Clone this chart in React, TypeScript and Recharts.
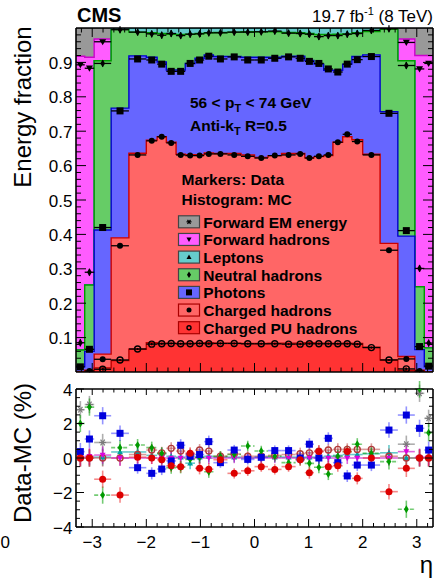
import React from 'react';
import { ComposedChart, Area, Scatter, XAxis, YAxis, ErrorBar } from 'recharts';

const FONT = '"Liberation Sans", Arial, Helvetica, sans-serif';

// ---------- data ----------
const binEdges = [-3.3, -3.139, -2.964, -2.65, -2.322, -2.0, -1.8, -1.63, -1.45, -1.28, -1.1, -0.93, -0.76, -0.5, -0.25, 0,
  0.25, 0.5, 0.76, 0.93, 1.1, 1.28, 1.45, 1.63, 1.8, 2.0, 2.322, 2.65, 2.964, 3.139, 3.3];

// MC histograms: cumulative (stacked) top of each component per eta bin
const mcTopForwardEM = [1, 1, 1, 1, 1, 1, 1, 1, 1, 1, 1, 1, 1, 1, 1, 1, 1, 1, 1, 1, 1, 1, 1, 1, 1, 1, 1, 1, 1, 1];
const mcTopForwardHad = [0.918, 0.915, 0.968, 1, 1, 1, 1, 1, 1, 1, 1, 1, 1, 1, 1, 1, 1, 1, 1, 1, 1, 1, 1, 1, 1, 1, 1, 0.968, 0.92, 0.92];
const mcTopLeptons = [0.064, 0.253, 0.905, 0.997, 1, 1, 1, 1, 1, 1, 1, 1, 1, 1, 1, 1, 1, 1, 1, 1, 1, 1, 1, 1, 1, 1, 0.997, 0.905, 0.248, 0.07];
const mcTopNeutral = [0.064, 0.253, 0.905, 0.996, 0.988, 0.986, 0.984, 0.982, 0.981, 0.982, 0.984, 0.986, 0.987, 0.988, 0.989,
  0.989, 0.989, 0.987, 0.986, 0.984, 0.981, 0.981, 0.982, 0.983, 0.986, 0.99, 0.996, 0.905, 0.248, 0.07];
const mcTopPhotons = [0.015, 0.06, 0.413, 0.767, 0.919, 0.915, 0.901, 0.878, 0.878, 0.897, 0.912, 0.922, 0.917, 0.917, 0.915,
  0.915, 0.915, 0.918, 0.918, 0.906, 0.895, 0.877, 0.877, 0.895, 0.917, 0.922, 0.757, 0.395, 0.065, 0.015];
const mcTopCharged = [0, 0.005, 0.052, 0.39, 0.636, 0.674, 0.684, 0.668, 0.633, 0.632, 0.632, 0.637, 0.635, 0.635, 0.631,
  0.624, 0.629, 0.635, 0.635, 0.623, 0.626, 0.629, 0.668, 0.684, 0.675, 0.633, 0.374, 0.045, 0.005, 0];
const mcTopChargedPU = [0, 0, 0.012, 0.033, 0.066, 0.085, 0.084, 0.084, 0.083, 0.084, 0.084, 0.085, 0.084, 0.084, 0.083,
  0.083, 0.084, 0.084, 0.084, 0.085, 0.084, 0.084, 0.083, 0.084, 0.083, 0.072, 0.035, 0.005, 0, 0];

// Data markers: cumulative fractions per eta bin (null = not shown)
const dataForwardHad = [0.893, 0.883, 0.96, null, null, null, null, null, null, null, null, null, null, null, null,
  null, null, null, null, null, null, null, null, null, null, null, null, 0.958, 0.881, 0.897];
const dataNeutral = [0.085, 0.29, 0.897, 0.995, 0.988, 0.983, 0.979, 0.984, 0.978, 0.982, 0.983, 0.986, 0.986, 0.988, 0.988,
  0.989, 0.991, 0.985, 0.984, 0.982, 0.975, 0.978, 0.978, 0.982, 0.984, 0.993, 0.998, 0.891, 0.301, 0.084];
const dataPhotons = [0.015, 0.066, 0.42, 0.759, 0.91, 0.907, 0.895, 0.874, 0.874, 0.897, 0.907, 0.918, 0.91, 0.916, 0.907,
  0.907, 0.912, 0.916, 0.912, 0.903, 0.897, 0.881, 0.872, 0.895, 0.908, 0.917, 0.752, 0.411, 0.074, 0.017];
const dataCharged = [null, 0.003, 0.037, 0.367, 0.631, 0.672, 0.684, 0.666, 0.631, 0.629, 0.629, 0.634, 0.634, 0.631, 0.627,
  0.622, 0.629, 0.631, 0.634, 0.622, 0.627, 0.631, 0.668, 0.691, 0.67, 0.631, 0.354, 0.038, 0.003, null];
const dataChargedPU = [null, null, 0.008, 0.035, 0.067, 0.081, 0.082, 0.083, 0.082, 0.082, 0.083, 0.082, 0.083, 0.083, 0.082,
  0.082, 0.082, 0.081, 0.081, 0.082, 0.082, 0.082, 0.082, 0.082, 0.081, 0.071, 0.035, 0.009, null, null];

// Data - MC (%) per eta bin
const diffForwardEM = [2.8, 3.1, 0.9, null, null, null, null, null, null, null, null, null, null, null, null,
  null, null, null, null, null, null, null, null, null, null, null, null, 0.8, 3.75, 2.3];
const diffForwardHad = [0.05, 0.1, 0.17, 0, 0, 0, 0, 0, 0, 0, 0, 0, 0, 0, 0, 0, 0, 0, 0, 0, 0, 0, 0, 0, 0, 0, 0, 0.37, 0.05, 0.05];
const diffLeptons = [0, 0, 0.05, 0.35, 0.35, 0.15, 0.25, 0.1, 0.05, -0.3, 0.05, 0.1, 0.05, 0.05, 0,
  0.05, 0.05, 0.05, 0.05, 0.05, 0.05, 0.1, 0.15, 0.2, 0.2, 0.25, 0.3, 0, 0, 0];
const diffNeutral = [2.0, 2.95, -2.15, 0.6, 0.75, 0.6, 0.27, -0.56, -0.54, -0.08, 0.04, -0.8, 0.1, 0.2, 0.7,
  0.41, 0.1, -0.27, -0.08, -0.31, -0.54, -0.93, 0.1, 0.37, 0.8, 0.27, -0.21, -2.97, 4.0, 1.47];
const diffPhotons = [0.37, 1.1, 2.45, 1.43, -0.56, -0.89, -0.64, -0.17, 0.74, 0.1, 0.2, 0.95, -0.27, 0.46, -0.08,
  0.04, 0.43, 0.43, 0, 0.8, 0, 1.14, -0.27, -1.04, -0.41, -0.41, 1.62, 2.49, 1.72, 0.46];
const diffCharged = [0, 0, -1.23, -2.15, 0.05, 0, -0.1, -0.45, -0.5, 0.27, -0.6, -0.65, -0.1, -0.89, -0.74,
  -0.5, -0.66, -0.5, -0.1, -0.85, 0.37, -0.5, -0.45, 0.37, -1.18, 0, -1.95, -0.6, 0, 0];
const diffChargedPU = [0, 0, 0, 0, 0.2, 0.46, 0.3, 0.56, 0.4, 0.2, 0.46, 0.4, 0.1, 0.23, 0.1,
  0.1, 0.15, 0.2, 0.25, 0.3, 0.4, 0.46, 0.5, 0.5, 0.5, 0.5, 0.1, 0, 0, 0];
const diffErr = [0.5, 0.5, 0.5, 0.45, 0.35, 0.35, 0.35, 0.35, 0.35, 0.35, 0.35, 0.35, 0.3, 0.3, 0.3,
  0.3, 0.3, 0.3, 0.35, 0.35, 0.35, 0.35, 0.35, 0.35, 0.35, 0.35, 0.45, 0.5, 0.5, 0.5];

// axis tick labels
const xMajorTicks = [-3, -2, -1, 0, 1, 2, 3];
const yTopMajorTicks = [0.1, 0.2, 0.3, 0.4, 0.5, 0.6, 0.7, 0.8, 0.9];
const yBotMajorTicks = [-4, -2, 0, 2, 4];

// ---------- derived ----------
const NB = binEdges.length - 1;
const binCenters = binEdges.slice(0, NB).map((e, i) => (e + binEdges[i + 1]) / 2);
const binHalf = binEdges.slice(0, NB).map((e, i) => (binEdges[i + 1] - e) / 2);

const histRows = binEdges.map((x, i) => {
  const j = Math.min(i, NB - 1);
  return {
    x,
    fem: mcTopForwardEM[j], fhad: mcTopForwardHad[j], lep: mcTopLeptons[j], neu: mcTopNeutral[j],
    pho: mcTopPhotons[j], ch: mcTopCharged[j], pu: mcTopChargedPU[j],
  };
});

type Pt = { x: number; y: number; xe: number; ye: number };
function toPoints(values: (number | null)[], yErr: number | number[]): Pt[] {
  const out: Pt[] = [];
  values.forEach((v, i) => {
    if (v === null || v === undefined) return;
    out.push({ x: binCenters[i], y: v, xe: binHalf[i], ye: Array.isArray(yErr) ? yErr[i] : yErr });
  });
  return out;
}

const range = (a: number, b: number, s: number) => {
  const r: number[] = [];
  for (let k = Math.round(a / s); k * s <= b + 1e-9; k++) r.push(Math.round(k * s * 1000) / 1000);
  return r;
};
const xTicksAll = range(-3.2, 3.2, 0.2);
const yTopTicksAll = range(0.02, 0.98, 0.02);
const yBotTicksAll = range(-3.5, 3.5, 0.5);

// ---------- markers ----------
type Kind = 'square' | 'circle' | 'open' | 'diamond' | 'tri' | 'itri' | 'star';
function drawMarker(kind: Kind, cx: number, cy: number, color: string, s: number) {
  const h = s / 2;
  switch (kind) {
    case 'square':
      return <rect x={cx - h} y={cy - h} width={s} height={s} fill={color} />;
    case 'circle':
      return <circle cx={cx} cy={cy} r={h} fill={color} />;
    case 'open':
      return <circle cx={cx} cy={cy} r={h - 0.5} fill="#fff" fillOpacity={0} stroke={color} strokeWidth={1.4} />;
    case 'diamond':
      return <polygon points={`${cx},${cy - h * 1.3} ${cx + h * 0.8},${cy} ${cx},${cy + h * 1.3} ${cx - h * 0.8},${cy}`} fill={color} />;
    case 'tri':
      return <polygon points={`${cx},${cy - h} ${cx + h},${cy + h * 0.75} ${cx - h},${cy + h * 0.75}`} fill={color} />;
    case 'itri':
      return <polygon points={`${cx},${cy + h} ${cx + h},${cy - h * 0.75} ${cx - h},${cy - h * 0.75}`} fill={color} />;
    case 'star':
      return (
        <g stroke={color} strokeWidth={1.2}>
          <line x1={cx - h} y1={cy} x2={cx + h} y2={cy} />
          <line x1={cx - h * 0.6} y1={cy - h * 0.8} x2={cx + h * 0.6} y2={cy + h * 0.8} />
          <line x1={cx - h * 0.6} y1={cy + h * 0.8} x2={cx + h * 0.6} y2={cy - h * 0.8} />
        </g>
      );
  }
  return null;
}

// ---------- ticks ----------
const TM = 4;
type Side = 'left' | 'right' | 'top' | 'bottom';
function mkTick(side: Side, majors: number[], majLen: number, minLen: number, labels: boolean, fmt: (v: number) => string) {
  return (props: any) => {
    const { x, y, payload } = props;
    const v = payload.value as number;
    const isMajor = majors.some((m) => Math.abs(m - v) < 1e-6);
    const len = isMajor ? majLen : minLen;
    let x1 = x, y1 = y, x2 = x, y2 = y;
    if (side === 'left') { x1 = x + TM; x2 = x1 + len; }
    else if (side === 'right') { x1 = x - TM; x2 = x1 - len; }
    else if (side === 'bottom') { y1 = y - TM; y2 = y1 - len; }
    else { y1 = y + TM; y2 = y1 + len; }
    return (
      <g>
        <line x1={x1} y1={y1} x2={x2} y2={y2} stroke="#000" strokeWidth={1} />
        {labels && isMajor && side === 'left' && (
          <text x={x1 - 3.5} y={y + 6.5} textAnchor="end" fontSize={17} fontFamily={FONT} fill="#000">{fmt(v)}</text>
        )}
        {labels && isMajor && side === 'bottom' && (
          <text x={x} y={y1 + 21} textAnchor="middle" fontSize={17} fontFamily={FONT} fill="#000">{fmt(v)}</text>
        )}
      </g>
    );
  };
}
const fmtNum = (v: number) => (v < 0 ? '\u2212' + String(Math.abs(v)) : String(v));
const AXLINE = { stroke: '#000', strokeWidth: 1.6 };

// ---------- series configs ----------
const histLayers = [
  { key: 'fem', fill: '#999999', stroke: '#555555' },
  { key: 'fhad', fill: '#ff5cff', stroke: '#cc00cc' },
  { key: 'lep', fill: '#66cccc', stroke: '#008888' },
  { key: 'neu', fill: '#66cc66', stroke: '#009900' },
  { key: 'pho', fill: '#6666ff', stroke: '#0000cc' },
  { key: 'ch', fill: '#ff6666', stroke: '#cc0000' },
  { key: 'pu', fill: '#ff3333', stroke: '#bb0000' },
];

const topMarkers: { name: string; pts: Pt[]; kind: Kind; size: number }[] = [
  { name: 'fhad', pts: toPoints(dataForwardHad, 0.004), kind: 'itri', size: 7 },
  { name: 'neu', pts: toPoints(dataNeutral, 0.01), kind: 'diamond', size: 6 },
  { name: 'pho', pts: toPoints(dataPhotons, 0.003), kind: 'square', size: 7 },
  { name: 'ch', pts: toPoints(dataCharged, 0.004), kind: 'circle', size: 6 },
  { name: 'pu', pts: toPoints(dataChargedPU, 0.003), kind: 'open', size: 7 },
];

const botSeries: { name: string; pts: Pt[]; kind: Kind; size: number; color: string; bar: string; dash?: string }[] = [
  { name: 'fem', pts: toPoints(diffForwardEM, diffErr), kind: 'star', size: 7, color: '#7a7a7a', bar: 'rgba(120,120,120,0.6)' },
  { name: 'lep', pts: toPoints(diffLeptons, diffErr), kind: 'tri', size: 6, color: '#00a0a0', bar: 'rgba(0,165,165,0.6)' },
  { name: 'pu', pts: toPoints(diffChargedPU, diffErr), kind: 'open', size: 7, color: '#b03a3a', bar: 'rgba(190,70,70,0.55)' },
  { name: 'fhad', pts: toPoints(diffForwardHad, diffErr), kind: 'itri', size: 6, color: '#dd00dd', bar: 'rgba(200,0,200,0.6)' },
  { name: 'neu', pts: toPoints(diffNeutral, diffErr), kind: 'diamond', size: 6, color: '#009a00', bar: 'rgba(0,160,0,0.55)', dash: '4 2' },
  { name: 'pho', pts: toPoints(diffPhotons, diffErr), kind: 'square', size: 7, color: '#0000dd', bar: 'rgba(60,60,255,0.55)' },
  { name: 'ch', pts: toPoints(diffCharged, diffErr), kind: 'circle', size: 7, color: '#dd0000', bar: 'rgba(235,40,40,0.55)' },
];

const legendItems: { label: string; fill: string; stroke: string; kind: Kind }[] = [
  { label: 'Forward EM energy', fill: '#999999', stroke: '#444444', kind: 'star' },
  { label: 'Forward hadrons', fill: '#ff5cff', stroke: '#444444', kind: 'itri' },
  { label: 'Leptons', fill: '#66cccc', stroke: '#444444', kind: 'tri' },
  { label: 'Neutral hadrons', fill: '#66cc66', stroke: '#444444', kind: 'diamond' },
  { label: 'Photons', fill: '#6666ff', stroke: '#444444', kind: 'square' },
  { label: 'Charged hadrons', fill: '#ff6666', stroke: '#aa0000', kind: 'circle' },
  { label: 'Charged PU hadrons', fill: '#ff3333', stroke: '#aa0000', kind: 'open' },
];

export default function App() {
  return (
    <div style={{ position: 'absolute', left: 0, top: 0, width: 440, height: 581, background: '#fff', fontFamily: FONT }}>
      {/* upper panel */}
      <div style={{ position: 'absolute', left: 0, top: 0 }}>
        <ComposedChart width={440} height={381} data={histRows} margin={{ top: 27, right: 6, bottom: 8, left: 16 }}>
          {histLayers.map((l) => (
            <Area key={l.key} xAxisId="b" yAxisId="l" type="stepAfter" dataKey={l.key} stroke={l.stroke} strokeWidth={1.4}
              fill={l.fill} fillOpacity={1} dot={false} activeDot={false} isAnimationActive={false} />
          ))}
          {topMarkers.map((m) => (
            <Scatter key={m.name} xAxisId="b" yAxisId="l" data={m.pts} dataKey="y" isAnimationActive={false}
              shape={(p: any) => drawMarker(m.kind, p.cx, p.cy, '#000', m.size)}>
              <ErrorBar dataKey="xe" direction="x" width={0} stroke="#000" strokeWidth={1.3} />
              <ErrorBar dataKey="ye" direction="y" width={0} stroke="#000" strokeWidth={1.3} />
            </Scatter>
          ))}
          <XAxis xAxisId="b" type="number" dataKey="x" domain={[-3.3, 3.3]} allowDataOverflow ticks={xTicksAll} interval={0}
            height={1} tickSize={0} tickMargin={TM} tickLine={false} axisLine={AXLINE}
            tick={mkTick('bottom', xMajorTicks, 9, 4.5, false, fmtNum)} />
          <XAxis xAxisId="t" orientation="top" type="number" dataKey="x" domain={[-3.3, 3.3]} allowDataOverflow ticks={xTicksAll} interval={0}
            height={1} tickSize={0} tickMargin={TM} tickLine={false} axisLine={AXLINE}
            tick={mkTick('top', xMajorTicks, 9, 4.5, false, fmtNum)} />
          <YAxis yAxisId="l" type="number" domain={[0, 1]} allowDataOverflow ticks={yTopTicksAll} interval={0}
            width={60} tickSize={0} tickMargin={TM} tickLine={false} axisLine={AXLINE}
            tick={mkTick('left', yTopMajorTicks, 10, 5, true, (v) => v.toFixed(1))} />
          <YAxis yAxisId="r" orientation="right" type="number" domain={[0, 1]} allowDataOverflow ticks={yTopTicksAll} interval={0}
            width={1} tickSize={0} tickMargin={TM} tickLine={false} axisLine={AXLINE}
            tick={mkTick('right', yTopMajorTicks, 10, 5, false, fmtNum)} />
        </ComposedChart>
      </div>

      {/* lower panel */}
      <div style={{ position: 'absolute', left: 0, top: 381 }}>
        <ComposedChart width={440} height={200} margin={{ top: 7, right: 6, bottom: 24, left: 16 }}>
          {botSeries.map((s) => (
            <Scatter key={s.name} xAxisId="b" yAxisId="l" data={s.pts} dataKey="y" isAnimationActive={false}
              shape={(p: any) => drawMarker(s.kind, p.cx, p.cy, s.color, s.size)}>
              <ErrorBar dataKey="xe" direction="x" width={0} stroke={s.bar} strokeWidth={1.6} strokeDasharray={s.dash} />
              <ErrorBar dataKey="ye" direction="y" width={0} stroke={s.bar} strokeWidth={1.6} />
            </Scatter>
          ))}
          <XAxis xAxisId="b" type="number" dataKey="x" domain={[-3.3, 3.3]} allowDataOverflow ticks={xTicksAll} interval={0}
            height={30} tickSize={0} tickMargin={TM} tickLine={false} axisLine={AXLINE}
            tick={mkTick('bottom', xMajorTicks, 8, 4, true, fmtNum)} />
          <XAxis xAxisId="t" orientation="top" type="number" dataKey="x" domain={[-3.3, 3.3]} allowDataOverflow ticks={xTicksAll} interval={0}
            height={1} tickSize={0} tickMargin={TM} tickLine={false} axisLine={AXLINE}
            tick={mkTick('top', xMajorTicks, 6, 3.5, false, fmtNum)} />
          <YAxis yAxisId="l" type="number" domain={[-4, 4]} allowDataOverflow ticks={yBotTicksAll.concat([-4, 4])} interval={0}
            width={60} tickSize={0} tickMargin={TM} tickLine={false} axisLine={AXLINE}
            tick={mkTick('left', yBotMajorTicks, 8, 4, true, fmtNum)} />
          <YAxis yAxisId="r" orientation="right" type="number" domain={[-4, 4]} allowDataOverflow ticks={yBotTicksAll} interval={0}
            width={1} tickSize={0} tickMargin={TM} tickLine={false} axisLine={AXLINE}
            tick={mkTick('right', yBotMajorTicks, 8, 4, false, fmtNum)} />
        </ComposedChart>
      </div>

      {/* annotations and legend */}
      <svg width={440} height={581} style={{ position: 'absolute', left: 0, top: 0, pointerEvents: 'none' }} fontFamily={FONT}>
        <text x={77} y={22} fontSize={20} fontWeight="bold">CMS</text>
        <text x={433} y={22} fontSize={17} textAnchor="end">
          19.7 fb<tspan dy={-7} fontSize={11}>-1</tspan><tspan dy={7}> (8 TeV)</tspan>
        </text>
        <text x={190} y={108.3} fontSize={15.5} fontWeight="bold">
          56 &lt; p<tspan dy={4} fontSize={11}>T</tspan><tspan dy={-4}> &lt; 74 GeV</tspan>
        </text>
        <text x={190} y={130.5} fontSize={15.5} fontWeight="bold">
          Anti-k<tspan dy={4} fontSize={11}>T</tspan><tspan dy={-4}> R=0.5</tspan>
        </text>
        <text x={181.5} y={184.5} fontSize={15.5} fontWeight="bold">Markers: Data</text>
        <text x={181.5} y={205} fontSize={15.5} fontWeight="bold">Histogram: MC</text>
        {legendItems.map((it, i) => {
          const cy = 221.8 + i * 17.65;
          return (
            <g key={it.label}>
              <rect x={178.5} y={cy - 6} width={21} height={12} fill={it.fill} stroke={it.stroke} strokeWidth={1.2} />
              {drawMarker(it.kind, 189, cy, '#000', it.kind === 'square' ? 6 : 5)}
              <text x={203.3} y={cy + 5.8} fontSize={15.5} fontWeight="bold">{it.label}</text>
            </g>
          );
        })}
        <text transform="rotate(-90)" x={-107} y={31} fontSize={24} textAnchor="middle">Energy fraction</text>
        <text transform="rotate(-90)" x={-453} y={31} fontSize={24} textAnchor="middle">Data-MC (%)</text>
        <text x={433} y={573} fontSize={24} textAnchor="end">η</text>
        <text x={0.5} y={548} fontSize={17}>0</text>
      </svg>
    </div>
  );
}
